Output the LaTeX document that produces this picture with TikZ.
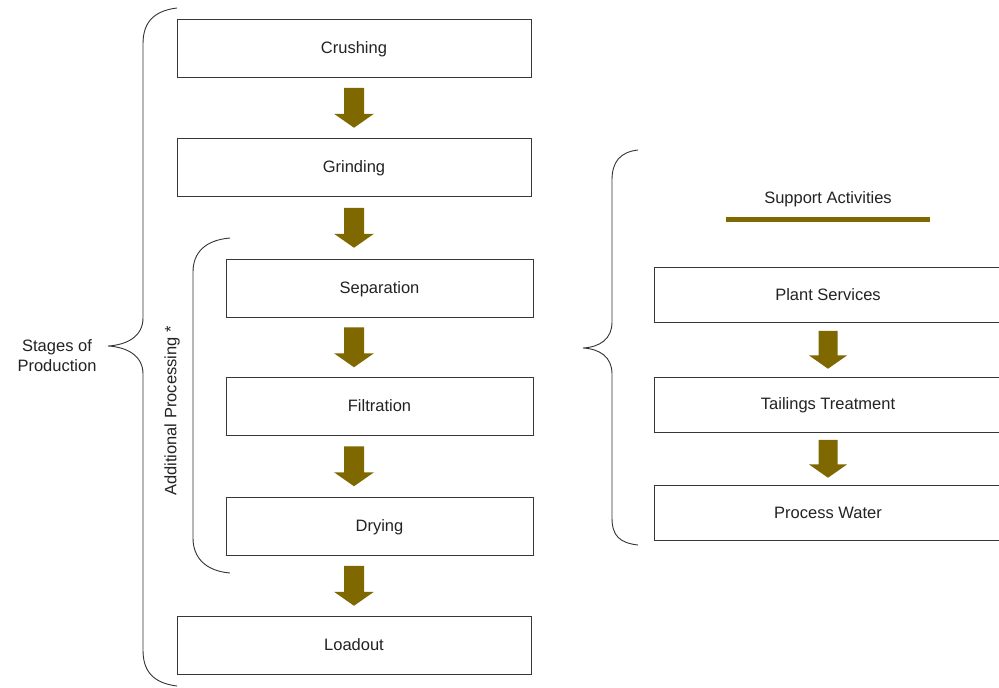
\documentclass[tikz,border=0pt]{standalone}
\usepackage{fontspec}
\setmainfont{Liberation Sans}
\usetikzlibrary{calc}
\definecolor{olivebrown}{RGB}{128,104,0}
\definecolor{boxline}{RGB}{55,55,55}
\definecolor{txt}{RGB}{35,35,35}
\tikzset{
  stagebox/.style={draw=boxline, line width=0.85pt, minimum width=354pt, minimum height=58pt, inner sep=0pt, text=txt, font=\fontsize{16.5}{19}\selectfont, text height=10pt, text depth=0pt},
  procbox/.style={stagebox, minimum width=307pt},
  suppbox/.style={stagebox, minimum width=348pt, minimum height=55pt},
  bracel/.style={draw=black!80, line width=0.9pt},
  lbl/.style={text=txt, font=\fontsize{16.5}{20}\selectfont, inner sep=0pt},
  pics/downarrow/.style={code={
    \fill[olivebrown] (-10,-20) -- (10,-20) -- (10,6) -- (20,6) -- (0,20) -- (-20,6) -- (-10,6) -- cycle;
  }}
}
\begin{document}
\begin{tikzpicture}[x=1pt,y=-1pt]
\useasboundingbox (0,0) rectangle (999,688);
\fill[white] (0,0) rectangle (999,688);

% left column
\node[stagebox] (crush) at (354,48) {Crushing};
\node[stagebox] (grind) at (354,167.5) {Grinding};
\node[procbox] (sep) at (379.5,288) {Separation};
\node[procbox] (filt) at (379.5,406.5) {Filtration};
\node[procbox] (dry) at (379.5,526) {Drying};
\node[stagebox] (load) at (354,645.5) {Loadout};

% right column
\node[suppbox] (plant) at (828,295) {Plant Services};
\node[suppbox] (tail) at (828,404.5) {Tailings Treatment};
\node[suppbox] (water) at (828,513) {Process Water};

\node[lbl] (support) at (828,199) {Support Activities};
\coordinate (sl) at (726,219);
\coordinate (sr) at (930,219);
\draw[olivebrown, line width=5pt] (sl) -- (sr);

% arrows
\coordinate (m1) at ($(crush.south)!0.5!(grind.north)$);
\coordinate (m2) at ($(grind.south)!0.5!(sep.north)$);
\coordinate (m3) at ($(sep.south)!0.5!(filt.north)$);
\coordinate (m4) at ($(filt.south)!0.5!(dry.north)$);
\coordinate (m5) at ($(dry.south)!0.5!(load.north)$);
\coordinate (m6) at ($(plant.south)!0.5!(tail.north)$);
\coordinate (m7) at ($(tail.south)!0.5!(water.north)$);
\foreach \m in {m1,m2,m3,m4,m5}{
  \path (crush.south |- \m) pic {downarrow};
}
\path (m6) pic[scale=0.95] {downarrow};
\path (m7) pic[scale=0.95] {downarrow};

% big left brace
\draw[bracel] (177,8) .. controls (152,11) and (143,24) .. (143,44) -- (143,318)
  .. controls (143,337) and (126,345) .. (108,346)
  .. controls (126,347) and (143,355) .. (143,374) -- (143,650)
  .. controls (143,670) and (152,683) .. (177,686);

% inner bracket
\draw[bracel] (230,238) .. controls (206,240) and (193,252) .. (193,272) -- (193,538)
  .. controls (193,558) and (206,571) .. (230,573);

% right brace
\draw[bracel] (638,150) .. controls (620,152) and (612,162) .. (612,180) -- (612,322)
  .. controls (612,339) and (600,347) .. (583,348)
  .. controls (600,349) and (612,357) .. (612,374) -- (612,518)
  .. controls (612,536) and (620,543) .. (638,545);

% labels
\node[lbl, align=center] (stages) at (57,356) {Stages of\\Production};
\node[lbl, rotate=90] (addl) at (172,411) {Additional Processing *};
\end{tikzpicture}
\end{document}
